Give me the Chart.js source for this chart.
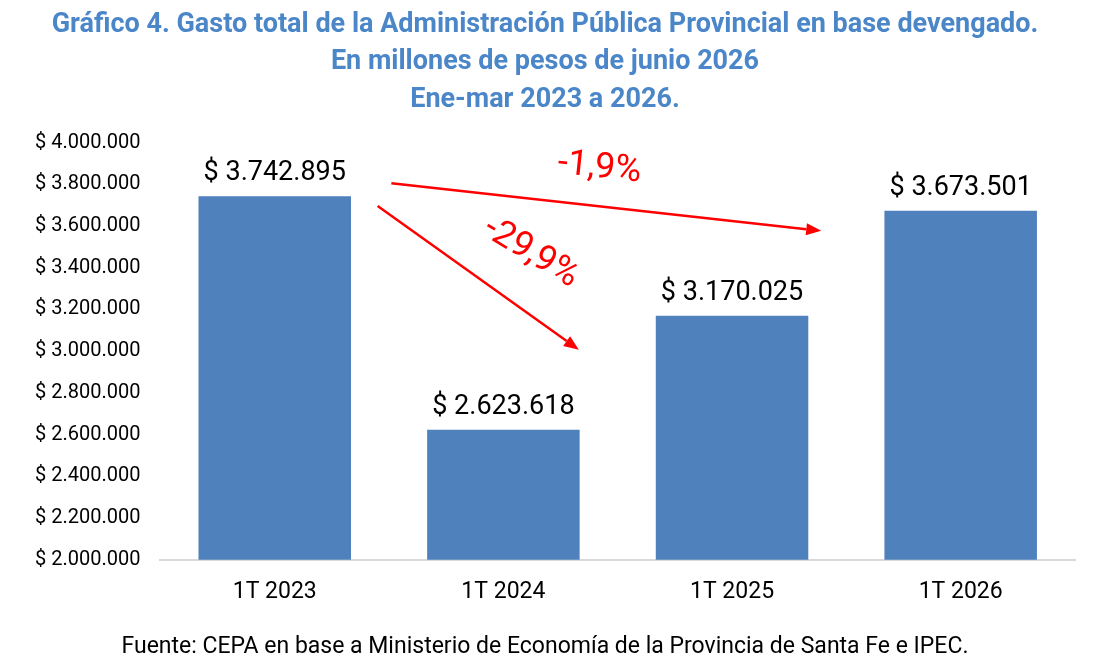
<!DOCTYPE html>
<html>
<head>
<meta charset="utf-8">
<script src="https://cdn.jsdelivr.net/npm/chart.js@4"></script>
<style>
  html, body { margin: 0; padding: 0; background: #fff; }
  #wrap { width: 1110px; height: 672px; }
</style>
</head>
<body>
<div id="wrap"><canvas id="chart"></canvas></div>
<script>
// data
const categories = ['1T 2023', '1T 2024', '1T 2025', '1T 2026'];
const gasto = [3742895, 2623618, 3170025, 3673501];
const yTicks = [2000000, 2200000, 2400000, 2600000, 2800000, 3000000, 3200000, 3400000, 3600000, 3800000, 4000000];

// variation arrows: [category index, value] pairs
const arrowLabels = ['-1,9%', '-29,9%'];
const arrowFrom = [[0.51, 3805000], [0.45, 3696000]];
const arrowTo = [[2.39, 3577000], [1.33, 3007000]];
const labelAt = [[1.42, 3877000], [1.12, 3470000]];
const labelAngle = [6, 31];

const titleLines = [
    'Gráfico 4. Gasto total de la Administración Pública Provincial en base devengado.',
    'En millones de pesos de junio 2026',
    'Ene-mar 2023 a 2026.'
];
const fuente = 'Fuente: CEPA en base a Ministerio de Economía de la Provincia de Santa Fe e IPEC.';

function pesos(v) {
    // thousands with dots, spanish style
    return '$ ' + String(Math.round(v)).replace(/\B(?=(\d{3})+(?!\d))/g, '.');
}

const extras = {
    id: 'extras',
    afterDatasetsDraw(chart) {
        const ctx = chart.ctx;
        const x = chart.scales.x, y = chart.scales.y;
        const meta = chart.getDatasetMeta(0);

        // value labels over bars
        ctx.save();
        ctx.fillStyle = '#000';
        ctx.font = '27px Roboto';
        ctx.textAlign = 'center';
        ctx.textBaseline = 'bottom';
        meta.data.forEach((bar, i) => {
            ctx.fillText(pesos(gasto[i]), bar.x, bar.y - 9);
        });

        // red arrows
        ctx.strokeStyle = '#ff0000';
        ctx.fillStyle = '#ff0000';
        ctx.lineWidth = 2.5;
        arrowFrom.forEach((p, i) => {
            const x1 = x.getPixelForValue(p[0]), y1 = y.getPixelForValue(p[1]);
            const x2 = x.getPixelForValue(arrowTo[i][0]), y2 = y.getPixelForValue(arrowTo[i][1]);
            const ang = Math.atan2(y2 - y1, x2 - x1);
            const head = 15, wing = 6;
            const bx = x2 - head * Math.cos(ang), by = y2 - head * Math.sin(ang);
            ctx.beginPath();
            ctx.moveTo(x1, y1);
            ctx.lineTo(bx, by);
            ctx.stroke();
            ctx.beginPath();
            ctx.moveTo(x2, y2);
            ctx.lineTo(bx + wing * Math.sin(ang), by - wing * Math.cos(ang));
            ctx.lineTo(bx - wing * Math.sin(ang), by + wing * Math.cos(ang));
            ctx.closePath();
            ctx.fill();
        });

        // percentage labels
        ctx.font = '36px Roboto';
        ctx.textBaseline = 'middle';
        labelAt.forEach((p, i) => {
            ctx.save();
            ctx.translate(x.getPixelForValue(p[0]), y.getPixelForValue(p[1]));
            ctx.rotate(labelAngle[i] * Math.PI / 180);
            ctx.fillText(arrowLabels[i], 0, 0);
            ctx.restore();
        });
        ctx.restore();
    }
};

new Chart(document.getElementById('chart'), {
    type: 'bar',
    data: {
        labels: categories,
        datasets: [{
            label: 'Gasto total',
            data: gasto,
            backgroundColor: '#4f81bd',
            barPercentage: 0.667,
            categoryPercentage: 1
        }]
    },
    options: {
        responsive: true,
        maintainAspectRatio: false,
        animation: false,
        layout: { padding: { left: 15, right: 35, top: 6, bottom: 11 } },
        scales: {
            x: {
                grid: { display: false, drawTicks: false },
                border: { color: '#d9d9d9', width: 2 },
                ticks: { color: '#000', font: { family: 'Roboto', size: 23 }, padding: 19 }
            },
            y: {
                min: 2000000,
                max: 4000000,
                afterBuildTicks: (axis) => { axis.ticks = yTicks.map(v => ({ value: v })); },
                grid: { display: false, drawTicks: false },
                border: { display: false },
                ticks: {
                    color: '#000',
                    font: { family: 'Roboto', size: 20 },
                    padding: 20,
                    callback: (v) => pesos(v)
                }
            }
        },
        plugins: {
            legend: { display: false },
            tooltip: { enabled: false },
            title: {
                display: true,
                text: titleLines,
                color: '#4a86c8',
                font: { family: 'Roboto', size: 27, weight: 'bold', lineHeight: 1.39 },
                padding: { top: 0, bottom: 24 }
            },
            subtitle: {
                display: true,
                position: 'bottom',
                text: fuente,
                color: '#000',
                font: { family: 'Roboto', size: 23 },
                padding: { top: 8, bottom: 0 }
            }
        }
    },
    plugins: [extras]
});
</script>
</body>
</html>
